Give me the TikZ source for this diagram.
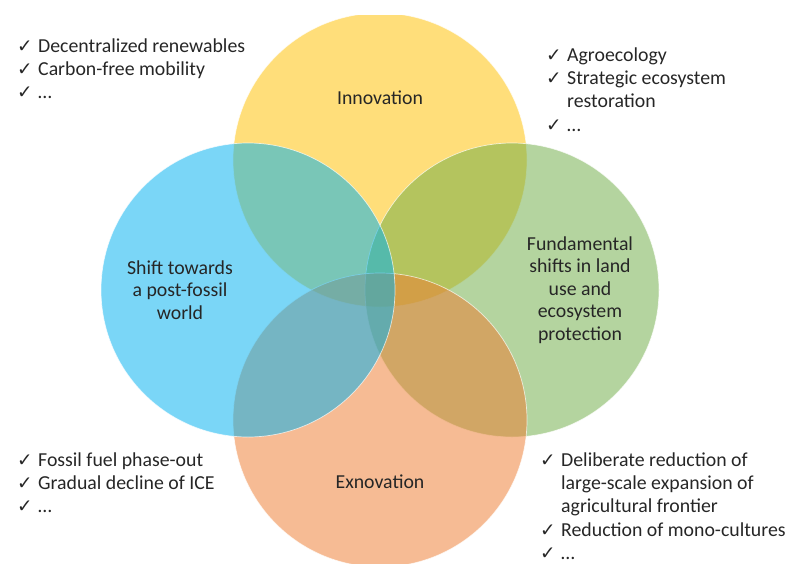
\documentclass[tikz,border=0pt]{standalone}
\usepackage{fontspec}
\setmainfont{Carlito}
\newfontfamily\symfont{DejaVu Sans}
\usepackage{tikz}
\usetikzlibrary{positioning}

\definecolor{innoyellow}{HTML}{FFC000}
\definecolor{shiftblue}{HTML}{00B0F0}
\definecolor{landgreen}{HTML}{70AD47}
\definecolor{exnoorange}{HTML}{ED7D31}
\definecolor{txtgray}{HTML}{262626}

\tikzstyle{bubble} = [circle, minimum size=294pt, inner sep=0pt, draw=white, draw opacity=0.7, line width=0.7pt, fill opacity=0.52]
\tikzstyle{title} = [align=center, text=txtgray, font=\fontsize{19.8}{22.6}\selectfont]
\tikzstyle{checklist} = [anchor=base west, inner sep=0pt, text=txtgray, font=\fontsize{19.8}{23.4}\selectfont]

\newcommand{\chk}{\makebox[21pt][l]{\symfont\fontsize{18.5}{18.5}\selectfont ✓}}

\begin{document}
\begin{tikzpicture}[x=1pt, y=-1pt]
    \useasboundingbox (0,0) rectangle (789,563);
    % the four bubbles, top one cut flat at the upper edge
    \begin{scope}
        \clip (0,15) rectangle (789,563);
        \node (inno) [bubble, fill=innoyellow] at (380,160) {};
        \node (land) [bubble, fill=landgreen] at (512,290) {};
        \node (exno) [bubble, fill=exnoorange] at (380,420) {};
        \node (shift) [bubble, fill=shiftblue] at (248,290) {};
    \end{scope}
    % bubble titles
    \node (innotitle) [title] at (380,98) {Innovation};
    \node (shifttitle) [title] at (180,290) {Shift towards\\a post-fossil\\world};
    \node (landtitle) [title] at (580,290) {Fundamental\\shifts in land\\use and\\ecosystem\\protection};
    \node (exnotitle) [title] at (380,482) {Exnovation};
    % examples next to each bubble
    \node (innolist) [checklist] at (17,52) {\begin{tabular}[t]{@{}l@{}l@{}}
        \chk & Decentralized renewables\\
        \chk & Carbon-free mobility\\
        \chk & \dots
    \end{tabular}};
    \node (landlist) [checklist] at (546,61) {\begin{tabular}[t]{@{}l@{}l@{}}
        \chk & Agroecology\\
        \chk & Strategic ecosystem\\
             & restoration\\
        \chk & \dots
    \end{tabular}};
    \node (shiftlist) [checklist] at (17,466) {\begin{tabular}[t]{@{}l@{}l@{}}
        \chk & Fossil fuel phase-out\\
        \chk & Gradual decline of ICE\\
        \chk & \dots
    \end{tabular}};
    \node (exnolist) [checklist] at (540,466) {\begin{tabular}[t]{@{}l@{}l@{}}
        \chk & Deliberate reduction of\\
             & large-scale expansion of\\
             & agricultural frontier\\
        \chk & Reduction of mono-cultures\\
        \chk & \dots
    \end{tabular}};
\end{tikzpicture}
\end{document}
